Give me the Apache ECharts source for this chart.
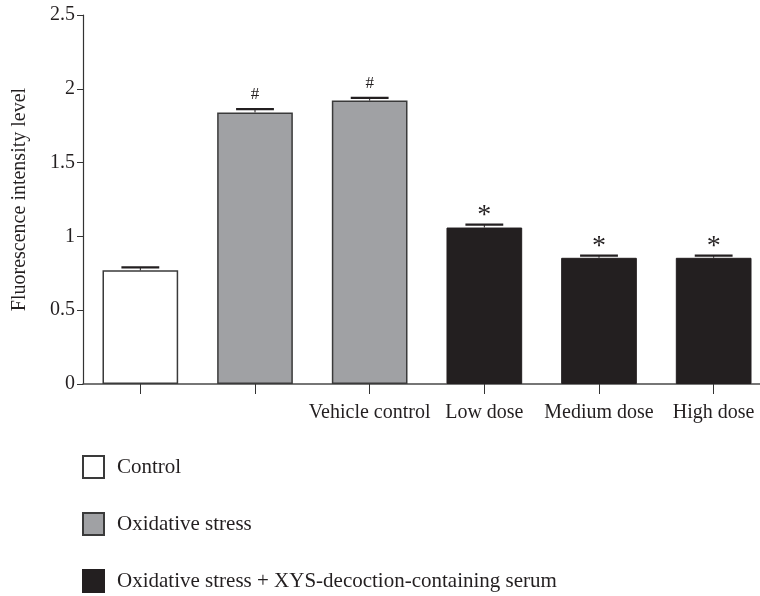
<!DOCTYPE html>
<html><head><meta charset="utf-8">
<script src="https://cdn.jsdelivr.net/npm/echarts@6/dist/echarts.min.js"></script>
<style>html,body{margin:0;padding:0;background:#fff}#c{width:760px;height:596px}</style>
</head><body><div id="c"></div>
<script>
var categories = ['Control', 'Oxidative stress', 'Vehicle control', 'Low dose', 'Medium dose', 'High dose'];
var tickLabels = ['', '', 'Vehicle control', 'Low dose', 'Medium dose', 'High dose'];
var controlValues = [0.77, '-', '-', '-', '-', '-'];
var stressValues = ['-', 1.84, 1.92, '-', '-', '-'];
var xysValues = ['-', '-', '-', 1.06, 0.855, 0.855];
var means = [0.77, 1.84, 1.92, 1.06, 0.855, 0.855];
var errors = [0.02, 0.022, 0.018, 0.02, 0.015, 0.015];
var marks = ['', '#', '#', '*', '*', '*'];
var yTicks = [0, 0.5, 1, 1.5, 2, 2.5];

var FONT = 'Liberation Serif';
var chart = echarts.init(document.getElementById('c'));
var errData = means.map(function (m, i) { return [i, m, errors[i], marks[i]]; });

chart.setOption({
  animation: false,
  textStyle: { fontFamily: FONT },
  grid: { left: 83, top: 15, width: 688, height: 369, containLabel: false, outerBoundsMode: 'none' },
  legend: {
    orient: 'vertical', left: 82, top: 455, height: 140, padding: 0,
    itemWidth: 21, itemHeight: 22, itemGap: 33,
    icon: 'rect',
    textStyle: { fontFamily: FONT, fontSize: 21, color: '#231f20', padding: [0, 0, 0, 8] },
    data: ['Control', 'Oxidative stress', 'Oxidative stress + XYS-decoction-containing serum']
  },
  xAxis: {
    type: 'category', data: categories,
    axisLine: { lineStyle: { color: '#4a4a4a', width: 1.5 } },
    axisTick: { show: true, alignWithLabel: true, length: 10, lineStyle: { color: '#333' } },
    axisLabel: {
      fontFamily: FONT, fontSize: 20, color: '#231f20', margin: 19, interval: 0,
      formatter: function (v, i) { return tickLabels[i]; }
    }
  },
  yAxis: {
    type: 'value', min: 0, max: 2.5, interval: 0.5,
    name: 'Fluorescence intensity level', nameLocation: 'middle', nameGap: 53, nameRotate: 90,
    nameTextStyle: { fontFamily: FONT, fontSize: 20, color: '#231f20' },
    splitLine: { show: false },
    axisLine: { show: true, lineStyle: { color: '#333', width: 1.2 } },
    axisTick: { show: true, inside: false, length: 6, lineStyle: { color: '#333' } },
    axisLabel: {
      fontFamily: FONT, fontSize: 20, color: '#231f20', margin: 8,
      formatter: function (v) { return yTicks.indexOf(v) >= 0 ? String(v) : ''; }
    }
  },
  series: [
    { name: 'Control', type: 'bar', data: controlValues, barWidth: '66%', barGap: '-100%',
      itemStyle: { color: '#ffffff', borderColor: '#3a3a3a', borderWidth: 1.5 } },
    { name: 'Oxidative stress', type: 'bar', data: stressValues, barWidth: '66%', barGap: '-100%',
      itemStyle: { color: '#a0a1a4', borderColor: '#3a3a3a', borderWidth: 1.5 } },
    { name: 'Oxidative stress + XYS-decoction-containing serum', type: 'bar', data: xysValues, barWidth: '66%', barGap: '-100%',
      itemStyle: { color: '#231f20', borderColor: '#231f20', borderWidth: 1 } },
    {
      type: 'custom', name: 'err', data: errData, z: 10,
      renderItem: function (params, api) {
        var x = api.value(0), m = api.value(1), e = api.value(2), mk = api.value(3);
        var base = api.coord([x, m]);
        var top = api.coord([x, m + e]);
        var bw = api.size([1, 0])[0] * 0.66;
        var half = bw / 4;
        var children = [
          { type: 'line', shape: { x1: base[0], y1: base[1], x2: top[0], y2: top[1] }, style: { stroke: '#231f20', lineWidth: 1 } },
          { type: 'line', shape: { x1: top[0] - half, y1: top[1], x2: top[0] + half, y2: top[1] }, style: { stroke: '#231f20', lineWidth: 2.2 } }
        ];
        if (mk) {
          var isStar = mk === '*';
          children.push({
            type: 'text',
            style: {
              text: mk, x: top[0], y: isStar ? top[1] + 5 : top[1] - 6, align: 'center', verticalAlign: 'bottom',
              font: (isStar ? '28px ' : '17px ') + FONT, fill: '#231f20'
            }
          });
        }
        return { type: 'group', children: children };
      }
    }
  ]
});
</script></body></html>
